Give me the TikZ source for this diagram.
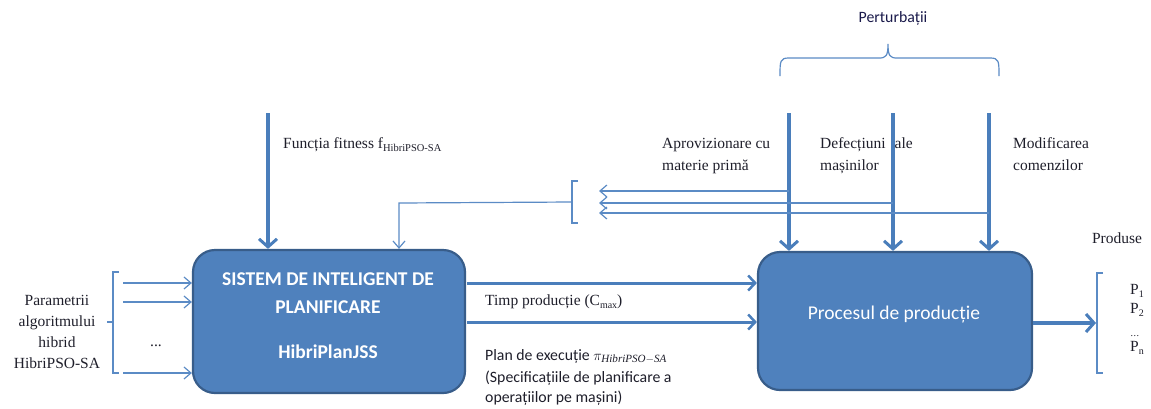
\documentclass[tikz,border=0pt]{standalone}
\usepackage{fontspec}
\setmainfont{Liberation Serif}
\newfontfamily\calib{Carlito}
\usetikzlibrary{arrows.meta}
\definecolor{boxfill}{HTML}{4F81BD}
\definecolor{boxdraw}{HTML}{385D8A}
\definecolor{arr}{HTML}{4A7EBB}
\definecolor{thinc}{HTML}{5B8BC5}
\definecolor{txt}{HTML}{1E1E2A}
\begin{document}
\begin{tikzpicture}[x=1pt,y=-1pt,
  box/.style={draw=boxdraw, fill=boxfill, line width=2.2pt, rounded corners=22pt, inner sep=0pt},
  boxtxtb/.style={font=\calib\bfseries\fontsize{19.5}{23}\selectfont, text=white, inner sep=0pt, anchor=base},
  boxtxt/.style={font=\calib\fontsize{19.5}{23}\selectfont, text=white, inner sep=0pt, anchor=base},
  serif/.style={font=\fontsize{15.5}{22}\selectfont, text=txt, inner sep=0pt, anchor=base west},
  serifc/.style={font=\fontsize{15.5}{22}\selectfont, text=txt, inner sep=0pt, anchor=base},
  sans/.style={font=\calib\fontsize{15.8}{21}\selectfont, text=txt, inner sep=0pt, anchor=base west},
  bigarr/.style={draw=arr, line width=4pt, -{Straight Barb[length=8pt,width=18pt,line width=3pt]}},
  midarr/.style={draw=arr, line width=3pt, -{Straight Barb[length=7pt,width=15pt,line width=2.5pt]}},
  thinarr/.style={draw=thinc, line width=1.2pt, -{Straight Barb[length=7pt,width=12pt,line width=1.2pt]}},
  thinline/.style={draw=thinc, line width=1.2pt}
]
\useasboundingbox (0,0) rectangle (1151,408);

% boxes
\node[box, minimum width=272pt, minimum height=143pt] (sys) at (329,321.5) {};
\node[box, minimum width=274pt, minimum height=138pt] (proc) at (895,321) {};
\node[boxtxtb] (sys1) at (328,285) {SISTEM DE INTELIGENT DE};
\node[boxtxtb] (sys2) at (328,313) {PLANIFICARE};
\node[boxtxtb] (sys3) at (328,358) {HibriPlanJSS};
\node[boxtxt] (proct) at (894,319) {Procesul de producție};

% top brace and label
\node[font=\calib\fontsize{15.8}{19}\selectfont, text=txt!85!blue, inner sep=0pt, anchor=base] (pert) at (893,22) {Perturbații};
\draw[thinline] (780,76) .. controls (780,61) and (780,58) .. (789,58) -- (879,58)
  .. controls (886,58) and (888,56) .. (888,44) .. controls (888,56) and (890,58) .. (897,58)
  -- (990,58) .. controls (999,58) and (999,61) .. (999,76);

% perturbation arrows
\coordinate (p1) at (789,113);
\coordinate (p2) at (893,113);
\coordinate (p3) at (989,113);
\draw[bigarr] (p1) -- (p1 |- proc.north);
\draw[bigarr] (p2) -- (p2 |- proc.north);
\draw[bigarr] (p3) -- (p3 |- proc.north);

\node[serif] (apr1) at (662,148) {Aprovizionare cu};
\node[serif] (apr2) at (662,170) {materie primă};
\node[serif] (def1) at (820,148) {Defecțiuni\hspace{9pt}ale};
\node[serif] (def2) at (820,170) {mașinilor};
\node[serif] (mod1) at (1013,148) {Modificarea};
\node[serif] (mod2) at (1013,170) {comenzilor};

% feedback lines
\coordinate (fb1) at (789,191);
\coordinate (fb2) at (893,203);
\coordinate (fb3) at (989,213);
\coordinate (fbe1) at (599,191);
\coordinate (fbe2) at (599,203);
\coordinate (fbe3) at (599,213);
\draw[thinarr] (fb1) -- (fbe1);
\draw[thinarr] (fb2) -- (fbe2);
\draw[thinarr] (fb3) -- (fbe3);
\draw[thinline] (578,181) -- (572,181) -- (572,223) -- (578,223);
\coordinate (fbb) at (572,202);
\coordinate (fbc) at (399,203);
\draw[thinarr] (fbb) -- (fbc) -- (fbc |- sys.north);

% fitness
\coordinate (fit) at (268,113);
\draw[bigarr] (fit) -- (fit |- sys.north);
\node[serif] (fitt) at (283,148) {Funcția fitness f\raisebox{-3.5pt}{\fontsize{10.5}{11}\selectfont HibriPSO-SA}};

% left inputs
\draw[thinline] (119,272) -- (113,272) -- (113,373) -- (119,373);
\draw[thinline] (113,322) -- (107,322);
\coordinate (in1) at (123,283);
\coordinate (in2) at (123,302);
\coordinate (in3) at (123,373);
\draw[thinarr] (in1) -- (in1 -| sys.west);
\draw[thinarr] (in2) -- (in2 -| sys.west);
\draw[thinarr] (in3) -- (in3 -| sys.west);
\node[serifc] (dots1) at (156,346) {...};
\node[serifc] (par1) at (57,305) {Parametrii};
\node[serifc] (par2) at (57,326) {algoritmului};
\node[serifc] (par3) at (57,347) {hibrid};
\node[serifc] (par4) at (57,368) {HibriPSO-SA};

% between boxes
\coordinate (o1) at (467,283);
\coordinate (o2) at (467,322);
\draw[midarr] (o1) -- (o1 -| proc.west);
\draw[midarr] (o2) -- (o2 -| proc.west);
\node[serif] (timp) at (485,305) {Timp producție (C\raisebox{-3pt}{\fontsize{10}{10}\selectfont max})};
\node[sans] (plan1) at (485,360) {Plan de execuție $\pi_{\mathit{HibriPSO-SA}}$};
\node[sans] (plan2) at (485,382) {(Specificațiile de planificare a};
\node[sans] (plan3) at (485,402) {operațiilor pe mașini)};

% output
\coordinate (outb) at (1096,323);
\draw[bigarr] (proc.east |- outb) -- (outb);
\draw[thinline] (1103,273) -- (1097,273) -- (1097,373) -- (1103,373);
\node[serifc] (prod) at (1117,243) {Produse};
\node[serif] (pp1) at (1130,294) {P\raisebox{-3pt}{\fontsize{10}{10}\selectfont 1}};
\node[serif] (pp2) at (1130,313) {P\raisebox{-3pt}{\fontsize{10}{10}\selectfont 2}};
\node[serif, font=\fontsize{10}{10}\selectfont] (ppd) at (1130.5,336) {.\kern0.5pt.\kern0.5pt.};
\node[serif] (ppn) at (1130,351) {P\raisebox{-3pt}{\fontsize{10}{10}\selectfont n}};
\end{tikzpicture}
\end{document}
